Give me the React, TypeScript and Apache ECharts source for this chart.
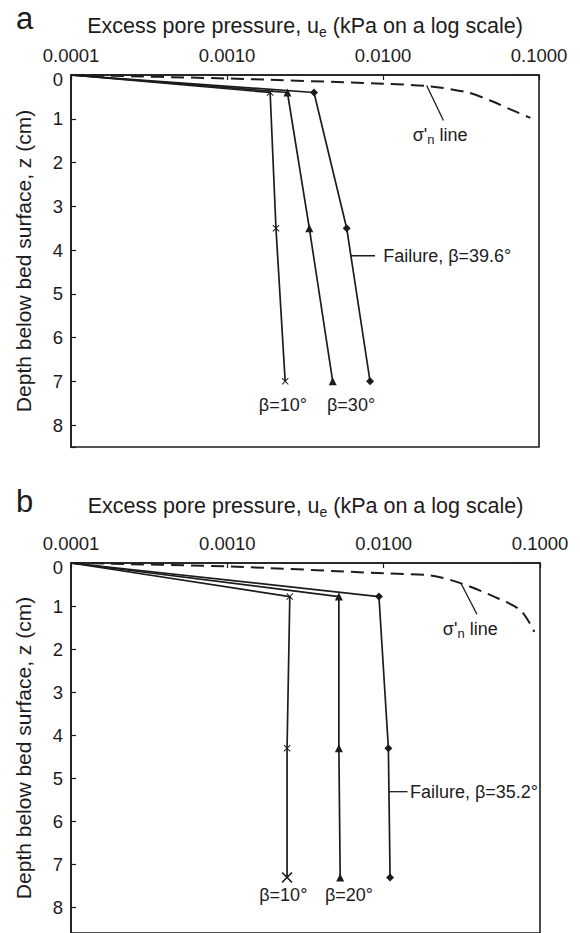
import React, { useEffect, useRef } from "react";
import * as echarts from "echarts";

// ---------- data ----------
// Panel a
const aDepths = [0, 0.4, 3.5, 7.0];
const aBeta10 = [0.0001, 0.00189, 0.00206, 0.00236];
const aBeta30 = [0.0001, 0.00244, 0.00337, 0.00476];
const aFailure = [0.0001, 0.00361, 0.00585, 0.00826];
const aSigmaU = [0.0001, 0.001, 0.01, 0.02, 0.035, 0.05, 0.065, 0.088];
const aSigmaZ = [0, 0.08, 0.2, 0.26, 0.4, 0.6, 0.78, 0.98];

// Panel b
const bDepths = [0, 0.78, 4.3, 7.3];
const bBeta10 = [0.0001, 0.00251, 0.00241, 0.00241];
const bBeta20 = [0.0001, 0.00517, 0.00517, 0.00527];
const bFailure = [0.0001, 0.00933, 0.01072, 0.01099];
const bSigmaU = [0.0001, 0.001, 0.01, 0.02, 0.03, 0.05, 0.075, 0.092];
const bSigmaZ = [0, 0.08, 0.24, 0.29, 0.45, 0.77, 1.1, 1.6];

// Annotation anchors [u, z]
const aSigmaLeader = [[0.01905, 0.24], [0.0244, 1.04]];
const aSigmaLabel = [0.0232, 1.38];
const aFailLeader = [[0.00614, 4.13], [0.00889, 4.13]];
const aFailLabel = [0.0098, 4.13];
const aBetaLabels = [
  { pos: [0.00228, 7.53], text: "β=10°" },
  { pos: [0.00624, 7.53], text: "β=30°" },
];
const bSigmaLeader = [[0.0312, 0.47], [0.0395, 1.19]];
const bSigmaLabel = [0.0358, 1.53];
const bFailLeader = [[0.0108, 5.31], [0.0142, 5.31]];
const bFailLabel = [0.0144, 5.31];
const bBetaLabels = [
  { pos: [0.00228, 7.72], text: "β=10°" },
  { pos: [0.006, 7.72], text: "β=20°" },
];

const X_MIN = 0.0001;
const X_MAX = 0.1;
const Y_MAX = 8.5;

// ---------- styling ----------
const FONT = '"Liberation Sans", Arial, Helvetica, sans-serif';
const INK = "#1e1b1c";
const CROSS =
  "path://M0,1L1,0L5,4L9,0L10,1L6,5L10,9L9,10L5,6L1,10L0,9L4,5Z";

function pts(xs: number[], ys: number[], lastSize?: number) {
  return xs.map((x, i) => {
    if (i === 0) return { value: [x, ys[i]], symbol: "none" };
    if (lastSize && i === xs.length - 1)
      return { value: [x, ys[i]], symbolSize: lastSize };
    return [x, ys[i]];
  });
}

function dataSeries(idx: number, xs: number[], ys: number[], symbol: string, size: number, lastSize?: number) {
  return {
    type: "line",
    xAxisIndex: idx,
    yAxisIndex: idx,
    data: pts(xs, ys, lastSize),
    symbol,
    symbolSize: size,
    showAllSymbol: true,
    lineStyle: { color: INK, width: 1.7 },
    itemStyle: { color: INK },
    silent: true,
    z: 3,
  };
}

function sigmaSeries(idx: number, xs: number[], ys: number[]) {
  return {
    type: "line",
    xAxisIndex: idx,
    yAxisIndex: idx,
    data: xs.map((x, i) => [x, ys[i]]),
    symbol: "none",
    smooth: 0.3,
    lineStyle: { color: INK, width: 2, type: [13, 7] },
    silent: true,
    z: 2,
  };
}

function leader(idx: number, seg: number[][]) {
  return {
    type: "line",
    xAxisIndex: idx,
    yAxisIndex: idx,
    data: seg,
    symbol: "none",
    lineStyle: { color: INK, width: 1.3 },
    silent: true,
  };
}

const richSigma = {
  t: { fontSize: 18, fontFamily: FONT, color: INK, lineHeight: 22 },
  s: {
    fontSize: 13,
    fontFamily: FONT,
    color: INK,
    lineHeight: 14,
    verticalAlign: "bottom",
  },
};

function labelSeries(idx: number, items: { pos: number[]; text: string; align: string }[]) {
  return {
    type: "scatter",
    xAxisIndex: idx,
    yAxisIndex: idx,
    symbolSize: 1,
    itemStyle: { color: "#ffffff", opacity: 1 },
    silent: true,
    z: 1,
    data: items.map((it) => ({
      value: it.pos,
      label: {
        show: true,
        position: it.align === "left" ? "right" : "inside",
        distance: 1,
        formatter: it.text,
        fontSize: 18,
        fontFamily: FONT,
        color: INK,
        textBorderWidth: 0,
        rich: richSigma,
      },
    })),
  };
}

function xAxisFor(idx: number, gap: number) {
  return {
    type: "log",
    logBase: 10,
    gridIndex: idx,
    position: "top",
    min: X_MIN,
    max: X_MAX,
    name: "{t|Excess pore pressure, u}{s|e}{t| (kPa on a log scale)}",
    nameLocation: "middle",
    nameGap: gap,
    nameTextStyle: {
      rich: {
        t: { fontSize: 21.5, fontFamily: FONT, color: INK, lineHeight: 26 },
        s: {
          fontSize: 14,
          fontFamily: FONT,
          color: INK,
          lineHeight: 16,
          verticalAlign: "bottom",
        },
      },
    },
    axisLine: { show: true, lineStyle: { color: INK, width: 1.6 } },
    axisTick: { show: true, inside: true, length: 5, lineStyle: { color: INK, width: 1.2 } },
    minorTick: { show: false },
    splitLine: { show: false },
    axisLabel: {
      fontSize: 18.5,
      lineHeight: 15,
      fontFamily: FONT,
      color: INK,
      margin: 12,
      formatter: (v: number) => v.toFixed(4),
    },
  };
}

function yAxisFor(idx: number) {
  return {
    type: "value",
    gridIndex: idx,
    inverse: true,
    min: 0,
    max: Y_MAX,
    interval: 1,
    name: "Depth below bed surface, z (cm)",
    nameLocation: "middle",
    nameRotate: 90,
    nameGap: 37,
    nameTextStyle: { fontSize: 21, fontFamily: FONT, color: INK },
    axisLine: { show: true, lineStyle: { color: INK, width: 1.6 } },
    axisTick: { show: true, inside: true, length: 5, lineStyle: { color: INK, width: 1.2 } },
    splitLine: { show: false },
    axisLabel: {
      fontSize: 18.5,
      lineHeight: 15,
      fontFamily: FONT,
      color: INK,
      margin: 8,
      formatter: (v: number) =>
        v === 0 ? "{z|0}" : Number.isInteger(v) ? String(v) : "",
      rich: {
        z: { fontSize: 18.5, fontFamily: FONT, color: INK, lineHeight: 15, padding: [8, 0, 0, 0] },
      },
    },
  };
}

export default function App() {
  const ref = useRef<HTMLDivElement>(null);

  useEffect(() => {
    if (!ref.current) return;
    const chart = echarts.init(ref.current, undefined, { renderer: "svg" });

    const sigmaText = "{t|σ'}{s|n}{t| line}";

    const option: any = {
      animation: false,
      backgroundColor: "#ffffff",
      title: [
        { text: "a", left: 11, top: -2, textStyle: { fontSize: 31, fontWeight: "normal", fontFamily: FONT, color: INK } },
        { text: "b", left: 11, top: 481, textStyle: { fontSize: 31, fontWeight: "normal", fontFamily: FONT, color: INK } },
      ],
      grid: [
        { left: 71, top: 75, width: 468, height: 372, show: true, borderColor: INK, borderWidth: 1.6, backgroundColor: "transparent" },
        { left: 71, top: 563, width: 469, height: 376, show: true, borderColor: INK, borderWidth: 1.6, backgroundColor: "transparent" },
      ],
      xAxis: [xAxisFor(0, 36), xAxisFor(1, 44)],
      yAxis: [
        yAxisFor(0),
        { ...yAxisFor(1), max: Y_MAX * 376 / 372 },
      ],
      series: [
        // Panel a
        sigmaSeries(0, aSigmaU, aSigmaZ),
        dataSeries(0, aBeta10, aDepths, CROSS, 7),
        dataSeries(0, aBeta30, aDepths, "triangle", 8),
        dataSeries(0, aFailure, aDepths, "diamond", 8),
        leader(0, aSigmaLeader),
        leader(0, aFailLeader),
        labelSeries(0, [
          { pos: aSigmaLabel, text: sigmaText, align: "center" },
          { pos: aFailLabel, text: "Failure, β=39.6°", align: "left" },
          ...aBetaLabels.map((b) => ({ pos: b.pos, text: b.text, align: "center" })),
        ]),
        // Panel b
        sigmaSeries(1, bSigmaU, bSigmaZ),
        dataSeries(1, bBeta10, bDepths, CROSS, 7, 11),
        dataSeries(1, bBeta20, bDepths, "triangle", 8),
        dataSeries(1, bFailure, bDepths, "diamond", 8),
        leader(1, bSigmaLeader),
        leader(1, bFailLeader),
        labelSeries(1, [
          { pos: bSigmaLabel, text: sigmaText, align: "center" },
          { pos: bFailLabel, text: "Failure, β=35.2°", align: "left" },
          ...bBetaLabels.map((b) => ({ pos: b.pos, text: b.text, align: "center" })),
        ]),
      ],
    };

    chart.setOption(option);
    return () => chart.dispose();
  }, []);

  return (
    <div
      ref={ref}
      style={{ position: "fixed", left: 0, top: 0, width: 580, height: 933, background: "#fff" }}
    />
  );
}
